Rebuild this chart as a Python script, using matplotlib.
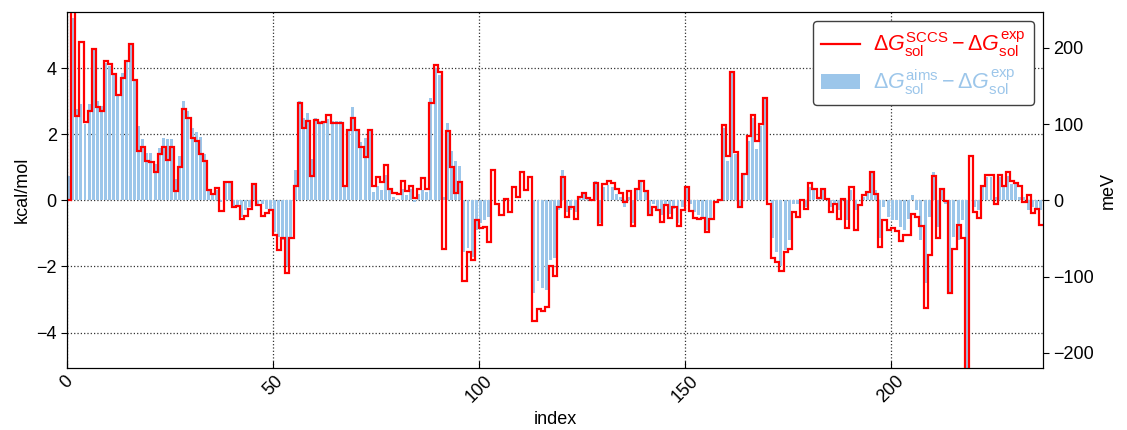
import matplotlib
matplotlib.use("Agg")
import matplotlib.pyplot as plt
import numpy as np

# kcal/mol differences per molecule index
sccs_minus_exp = [
    0.0, 6.0, 2.54, 4.79, 2.36, 2.69, 4.58, 2.81, 2.69, 4.2,
    4.13, 3.82, 3.19, 3.70, 4.2, 4.72, 3.63, 1.49, 1.61, 1.2,
    1.16, 0.86, 1.4, 1.6, 1.21, 1.61, 0.29, 1.0, 2.77, 2.48,
    1.89, 1.79, 1.41, 1.18, 0.31, 0.2, 0.37, -0.33, 0.55, 0.55,
    -0.21, -0.18, -0.55, -0.48, -0.25, 0.48, -0.13, -0.48, -0.38, -0.3,
    -1.04, -1.51, -1.14, -2.2, -1.14, 0.42, 2.94, 2.19, 2.39, 0.73,
    2.44, 2.34, 2.37, 2.59, 2.34, 2.34, 2.34, 0.42, 2.12, 2.5,
    2.14, 1.61, 1.3, 2.14, 0.42, 0.72, 0.55, 1.08, 0.35, 0.22,
    0.2, 0.59, 0.29, 0.42, 0.06, 0.34, 0.66, 0.35, 2.94, 4.1,
    3.87, -1.47, 2.09, 1.0, 0.22, 0.54, -2.45, -1.57, -1.79, -0.61,
    -0.84, -0.8, -1.27, 0.93, -0.11, -0.43, 0.05, -0.35, 0.4, 0.09,
    0.85, 0.32, 0.7, -3.66, -3.28, -3.34, -3.23, -2.0, -2.3, -0.2,
    0.7, -0.5, -0.21, -0.56, 0.09, 0.22, 0.07, 0.02, 0.52, -0.74,
    0.5, 0.59, 0.52, 0.34, 0.22, -0.06, 0.27, -0.77, 0.34, 0.57,
    0.27, -0.43, -0.21, -0.28, -0.65, -0.13, -0.53, -0.21, -0.79, -0.3,
    0.39, -0.33, -0.53, -0.55, -0.53, -0.97, -0.58, -0.05, 0.02, 2.29,
    1.33, 3.87, 1.46, -0.2, 0.81, 1.93, 2.59, 1.78, 2.32, 3.09,
    -0.1, -1.74, -1.87, -2.15, -1.56, -1.47, -0.36, -0.5, 0.0, -0.26,
    0.52, 0.35, 0.07, 0.35, 0.05, -0.36, -0.11, -0.55, 0.04, -0.84,
    0.39, -0.91, -0.13, 0.17, 0.24, 0.85, 0.2, -1.41, -0.6, -0.89,
    -0.84, -0.94, -1.24, -1.04, -1.04, -0.4, -0.5, -0.77, -3.25, -1.64,
    0.73, -1.14, 0.35, -0.03, -2.8, -1.47, -0.74, -1.14, -6.0, 1.33,
    -0.36, -0.53, 0.42, 0.76, 0.76, -0.11, 0.76, 0.42, 0.86, 0.57,
    0.52, 0.42, -0.05, 0.17, -0.38, -0.26, -0.74,
]

aims_minus_exp = [
    0.75, 5.5, 2.76, 2.9, 2.3, 2.9, 4.55, 3.0, 2.85, 4.15,
    4.05, 3.85, 3.2, 3.85, 4.25, 4.75, 3.6, 2.24, 1.86, 1.43,
    1.43, 1.1, 1.58, 1.88, 1.85, 1.85, 0.64, 1.35, 3.0, 2.7,
    2.2, 2.08, 1.9, 1.4, 0.3, 0.2, 0.3, -0.05, 0.55, 0.55,
    -0.2, -0.2, -0.5, -0.3, -0.2, 0.48, -0.1, -0.1, -0.25, -0.25,
    -0.95, -1.1, -1.2, -2.0, -1.1, 0.93, 3.0, 2.5, 2.65, 1.25,
    2.48, 2.4, 2.35, 2.45, 2.4, 2.4, 2.4, 0.42, 2.1, 2.83,
    2.1, 1.75, 1.88, 2.14, 0.25, 0.42, 0.3, 0.78, 0.3, 0.1,
    0.05, 0.35, 0.15, 0.35, -0.05, 0.2, 0.3, 0.25, 3.1, 4.0,
    3.8, 0.1, 2.35, 1.48, 1.18, 1.05, -1.55, -1.45, -1.7, -0.9,
    -0.7, -0.6, -0.5, 0.0, 0.0, 0.0, 0.0, 0.0, 0.0, 0.0,
    0.0, 0.0, 0.0, -2.8, -2.43, -2.65, -2.7, -1.8, -1.74, -0.3,
    0.92, -0.35, -0.3, -0.35, 0.1, 0.25, 0.05, 0.0, 0.58, -0.7,
    0.4, 0.47, 0.4, 0.2, 0.1, -0.2, 0.1, -0.7, 0.3, 0.6,
    0.3, -0.4, -0.1, -0.3, -0.45, -0.15, -0.4, -0.25, -0.7, -0.2,
    0.4, -0.1, -0.35, -0.45, -0.5, -0.9, -0.55, 0.0, 0.0, 2.2,
    1.2, 3.85, 1.4, -0.2, 0.8, 1.8, 2.5, 1.55, 2.25, 3.05,
    0.0, -1.15, -1.55, -2.0, -1.5, -1.2, -0.1, -0.1, 0.0, -0.2,
    0.4, 0.3, 0.05, 0.3, 0.05, -0.2, -0.1, -0.3, 0.05, -0.6,
    0.3, -0.3, 0.0, 0.1, 0.25, 0.85, 0.3, -1.15, -0.2, -0.5,
    -0.6, -0.6, -0.8, -0.9, -0.55, 0.15, -0.3, -1.2, -2.5, -0.5,
    0.85, -0.8, 0.3, -0.1, -2.8, -1.1, -1.2, -0.6, -6.0, 0.0,
    -0.2, -0.3, 0.4, 0.7, 0.7, 0.1, 0.7, 0.42, 0.75, 0.5,
    0.5, 0.1, 0.1, -0.3, -0.2, -0.3, -0.3,
]

KCAL_TO_MEV = 43.364
RED = "red"
BLUE = "#9cc6ea"

plt.rcParams["font.family"] = ["Liberation Sans", "DejaVu Sans"]
plt.rcParams["mathtext.fontset"] = "custom"
plt.rcParams["mathtext.rm"] = "Liberation Sans"
plt.rcParams["mathtext.it"] = "Liberation Sans:italic"
plt.rcParams["mathtext.bf"] = "Liberation Sans:bold"


def main() -> None:
    red = np.array(sccs_minus_exp)
    blue = np.array(aims_minus_exp)
    n = len(red)
    idx = np.arange(n)

    fig = plt.figure(figsize=(11.27, 4.30), dpi=100)
    ax = fig.add_axes([0.0595, 0.145, 0.866, 0.826])

    bars = ax.bar(idx, blue, width=0.72, align="edge", color=BLUE,
                  linewidth=0, zorder=2)
    ax.stairs(red, np.arange(n + 1), baseline=None, color=RED,
              linewidth=1.6, zorder=3)

    ylim = (-5.06, 5.68)
    ax.set_xlim(0, n)
    ax.set_ylim(*ylim)
    ax.set_xticks([0, 50, 100, 150, 200])
    ax.set_yticks([-4, -2, 0, 2, 4])
    ax.grid(True, linestyle=":", color="black", linewidth=0.9, alpha=0.8)
    ax.set_axisbelow(True)
    ax.tick_params(axis="x", direction="in", labelsize=13, length=5,
                   labelrotation=45)
    ax.tick_params(axis="y", direction="out", labelsize=13, length=4)
    ax.set_xlabel("index", fontsize=13)
    ax.set_ylabel("kcal/mol", fontsize=13)

    ax2 = ax.twinx()
    ax2.set_ylim(ylim[0] * KCAL_TO_MEV, ylim[1] * KCAL_TO_MEV)
    ax2.set_yticks([-200, -100, 0, 100, 200])
    ax2.tick_params(axis="y", direction="out", labelsize=13, length=4)
    ax2.set_ylabel("meV", fontsize=13)

    red_handle = plt.Line2D([], [], color=RED, linewidth=1.6)
    leg = ax2.legend(
        [red_handle, bars],
        [r"$\Delta G^{\rm SCCS}_{\rm sol} - \Delta G^{\rm exp}_{\rm sol}$",
         r"$\Delta G^{\rm aims}_{\rm sol} - \Delta G^{\rm exp}_{\rm sol}$"],
        loc="upper right", fontsize=15.5, frameon=True, fancybox=True,
        edgecolor="0.25", framealpha=1.0, handlelength=1.8,
        borderaxespad=0.4, labelspacing=0.35, handletextpad=0.6,
    )
    leg.get_texts()[0].set_color(RED)
    leg.get_texts()[1].set_color(BLUE)

    fig.savefig("out.png", dpi=100)
    plt.close(fig)


if __name__ == "__main__":
    main()
